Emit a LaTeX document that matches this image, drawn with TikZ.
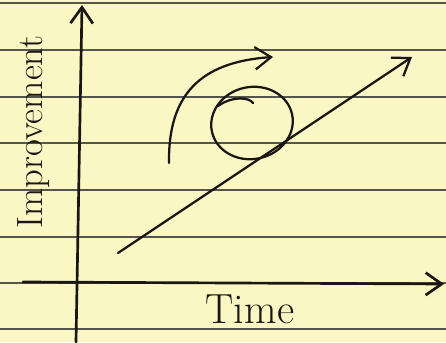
\documentclass[tikz,border=0pt]{standalone}
\usepackage{tikz}
\usetikzlibrary{arrows.meta}
\definecolor{paper}{RGB}{250,247,196}
\definecolor{rule}{RGB}{85,85,75}
\definecolor{pen}{RGB}{25,22,20}

\begin{document}
\begin{tikzpicture}[x=0.025cm,y=0.025cm,>={Straight Barb[length=4mm,width=5.6mm]},line cap=round,line join=round,
  ruling/.style={draw=rule,line width=0.75pt},
  axis/.style={->,draw=pen,line width=1.9pt},
  stroke/.style={draw=pen,line width=1.6pt},
  hand/.style={text=pen,inner sep=0pt}]
\fill[paper] (0,0) rectangle (446,342);
\useasboundingbox (0,0) rectangle (446,342);
% ruled paper
\foreach \yy in {339,292,245,199,152,105,59,13}
  \draw[ruling] (0,\yy) -- (446,\yy);
% axes
\coordinate (ybot) at (76,0);
\coordinate (ytop) at (82,337);
\coordinate (xleft) at (23,60);
\coordinate (xright) at (444,58);
\draw[axis] (ybot) -- (ytop);
\draw[axis] (xleft) -- (xright);
% steady line
\coordinate (s) at (118,89);
\coordinate (t) at (412,285);
\draw[->,stroke] (s) -- (t);
% loop
\coordinate (loopc) at (252,219);
\draw[stroke,rotate around={12:(loopc)}] (loopc) ellipse (41 and 36);
\coordinate (hook0) at (253,239);
\coordinate (hook1) at (218,236);
\draw[stroke] (hook0) .. controls (249,245) and (232,246) .. (hook1);
% leap
\coordinate (a) at (169,179);
\coordinate (b) at (273,285);
\draw[->,stroke] (a) .. controls (168,247) and (200,280) .. (b);
% labels
\node[hand,font=\fontsize{30}{34}\selectfont] (time) at (250,33) {Time};
\node[hand,rotate=90,font=\fontsize{26}{30}\selectfont] (improve) at (34,210) {Improvement};
\end{tikzpicture}
\end{document}
